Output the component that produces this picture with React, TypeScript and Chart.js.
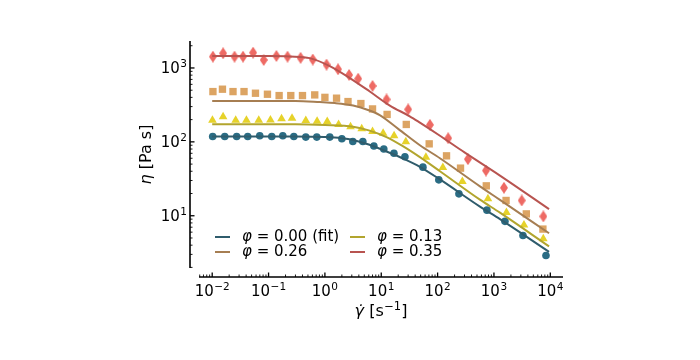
import React, { useEffect, useRef } from 'react';
import { Chart, registerables } from 'chart.js';

Chart.register(...registerables);

const FONT = "'DejaVu Sans', 'Noto Sans', sans-serif";

// ---- measured data (shear rate in 1/s, viscosity in Pa s) ----
const phi000X = [0.0102, 0.0167, 0.0272, 0.0427, 0.0698, 0.114, 0.179, 0.281, 0.458, 0.718, 1.22, 2.0, 3.13, 4.71, 7.4, 11.1, 16.8, 26.3, 54.9, 105, 239, 751, 1568, 3272, 8380];
const phi000Y = [118, 118, 118, 118, 121, 118, 121, 118, 116, 116, 116, 110, 101, 101, 88, 80, 70, 63, 45.5, 30.6, 19.8, 11.9, 8.4, 5.4, 2.9];

const phi013X = [0.0101, 0.0156, 0.0261, 0.0405, 0.067, 0.108, 0.17, 0.261, 0.458, 0.727, 1.1, 1.75, 2.85, 4.5, 7.0, 10.8, 16.9, 27.3, 62, 124, 275, 782, 1667, 3410, 7510];
const phi013Y = [196, 218, 196, 196, 196, 198, 205, 209, 194, 190, 189, 172, 160, 151, 138, 131, 121, 100, 62, 45, 29, 17, 11.1, 7.5, 4.9];

const phi026X = [0.0103, 0.0152, 0.0234, 0.0367, 0.0586, 0.0956, 0.154, 0.248, 0.40, 0.66, 1.0, 1.61, 2.57, 4.35, 7.0, 12.7, 27.8, 70.9, 144, 255, 731, 1640, 3750, 7390];
const phi026Y = [479, 516, 479, 479, 455, 441, 423, 423, 423, 432, 400, 390, 351, 330, 279, 235, 172, 94, 64.7, 44.1, 25.4, 16.1, 10.6, 6.6];

const phi035X = [0.0103, 0.0156, 0.0249, 0.0352, 0.0531, 0.0821, 0.138, 0.217, 0.37, 0.61, 1.07, 1.71, 2.69, 3.89, 7.0, 12.4, 30, 73, 154, 345, 721, 1507, 3107, 7517];
const phi035Y = [1422, 1581, 1422, 1422, 1610, 1283, 1452, 1422, 1370, 1300, 1110, 960, 804, 715, 571, 375, 275, 170, 112, 58.3, 40.9, 23.9, 16.1, 9.8];

// ---- fitted curves ----
const fit000X = [0.01, 0.3, 1, 2, 3.17, 6, 12.4, 25, 48.5, 110, 564, 1279, 9500];
const fit000Y = [118, 118, 116, 112, 106, 92, 74, 59, 46, 31, 13.3, 9, 3.25];

const fit013X = [0.01, 0.3, 1, 3.17, 6, 12.4, 25, 48.5, 110, 564, 1279, 9500];
const fit013Y = [173, 173, 169, 160, 143, 116, 86, 62, 40, 16.5, 11, 3.85];

const fit026X = [0.01, 0.3, 0.81, 1.5, 3.17, 6, 9.4, 20, 48.5, 110, 564, 1279, 9500];
const fit026Y = [358, 357, 345, 335, 310, 268, 230, 150, 90, 60, 25, 16.4, 5.8];

const fit035X = [0.01, 0.1, 0.24, 0.54, 1.22, 2.77, 6.26, 14.2, 32, 48.5, 110, 300, 1279, 9500];
const fit035Y = [1450, 1450, 1430, 1360, 1060, 730, 480, 310, 222, 182, 121, 72, 35, 12.3];

// ---- axes ----
const xTickValues = [0.01, 0.1, 1, 10, 100, 1000, 10000];
const xTickExponents = ['−2', '−1', '0', '1', '2', '3', '4'];
const yTickValues = [10, 100, 1000];
const yTickExponents = ['1', '2', '3'];
const tickBase = '10';
const xRange = [0.00583, 16800];
const yRange = [1.963, 2317];
// title pieces: [italic symbol, text, superscript, text]
const xTitleParts = ['γ̇', ' [s', '−1', ']'];
const yTitleParts = ['η', ' [Pa s]'];

// legend order: column 1 then column 2 (matplotlib ncol=2)
const legendLabels = ['φ = 0.00 (fit)', 'φ = 0.26', 'φ = 0.13', 'φ = 0.35'];

const COL = {
  b: '#2a6c84', bLine: '#2f5c6c',
  y: '#e6d22a', yLine: '#b2a52e',
  o: '#dca463', oLine: '#a67e52',
  r: '#ee6a64', rLine: '#b85450',
};

const FS = 15; // tick / legend font size
const SUP = 10.5; // superscript size
const TFS = 16; // axis title size
const TSUP = 11.5;

function pts(xs: number[], ys: number[]) {
  return xs.map((x, i) => ({ x, y: ys[i] }));
}

function thinDiamond(color: string, w: number, h: number) {
  const c = document.createElement('canvas');
  c.width = w; c.height = h;
  const g = c.getContext('2d')!;
  g.fillStyle = color;
  g.beginPath();
  g.moveTo(w / 2, 0); g.lineTo(w, h / 2); g.lineTo(w / 2, h); g.lineTo(0, h / 2);
  g.closePath(); g.fill();
  return c;
}

const SPINE_OFFSET = 9;

function powLabelWidth(ctx: CanvasRenderingContext2D, exp: string) {
  ctx.font = `${FS}px ${FONT}`;
  const a = ctx.measureText(tickBase).width;
  ctx.font = `${SUP}px ${FONT}`;
  const b = ctx.measureText(exp).width;
  return { a, b };
}

function drawPow(ctx: CanvasRenderingContext2D, exp: string, left: number, baseline: number) {
  const { a } = powLabelWidth(ctx, exp);
  ctx.font = `${FS}px ${FONT}`;
  ctx.fillText(tickBase, left, baseline);
  ctx.font = `${SUP}px ${FONT}`;
  ctx.fillText(exp, left + a + 0.5, baseline - 6);
}

const axesPlugin = {
  id: 'mplAxes',
  afterDraw(chart: any) {
    const { ctx, chartArea: ca, scales } = chart;
    const xs = scales.x, ys = scales.y;
    const sx = ca.left - SPINE_OFFSET;
    const sy = ca.bottom + SPINE_OFFSET;
    ctx.save();
    ctx.strokeStyle = '#000';
    ctx.lineCap = 'butt';
    ctx.lineWidth = 1.6;
    ctx.beginPath();
    ctx.moveTo(sx, ca.top); ctx.lineTo(sx, ca.bottom);
    ctx.moveTo(ca.left, sy); ctx.lineTo(ca.right, sy);
    ctx.stroke();
    const tick = (isX: boolean, v: number, len: number, w: number) => {
      ctx.lineWidth = w;
      ctx.beginPath();
      if (isX) {
        const p = xs.getPixelForValue(v);
        if (p < ca.left - 0.5 || p > ca.right + 0.5) return;
        ctx.moveTo(p, sy); ctx.lineTo(p, sy - len);
      } else {
        const p = ys.getPixelForValue(v);
        if (p < ca.top - 0.5 || p > ca.bottom + 0.5) return;
        ctx.moveTo(sx, p); ctx.lineTo(sx + len, p);
      }
      ctx.stroke();
    };
    for (let e = -3; e <= 4; e++) {
      for (let m = 1; m <= 9; m++) {
        const v = m * Math.pow(10, e);
        if (v < xRange[0] || v > xRange[1]) continue;
        tick(true, v, m === 1 ? 4.5 : 2.5, m === 1 ? 1.3 : 0.9);
      }
    }
    for (let e = 0; e <= 3; e++) {
      for (let m = 1; m <= 9; m++) {
        const v = m * Math.pow(10, e);
        if (v < yRange[0] || v > yRange[1]) continue;
        tick(false, v, m === 1 ? 4.5 : 2.5, m === 1 ? 1.3 : 0.9);
      }
    }

    // tick labels
    ctx.fillStyle = '#000';
    ctx.textBaseline = 'alphabetic';
    ctx.textAlign = 'left';
    xTickValues.forEach((v, i) => {
      const p = xs.getPixelForValue(v);
      const exp = xTickExponents[i];
      const { a, b } = powLabelWidth(ctx, exp);
      const w = a + 0.5 + b;
      drawPow(ctx, exp, p - w / 2, sy + 19);
    });
    yTickValues.forEach((v, i) => {
      const p = ys.getPixelForValue(v);
      const exp = yTickExponents[i];
      const { a, b } = powLabelWidth(ctx, exp);
      const w = a + 0.5 + b;
      drawPow(ctx, exp, sx - 3 - w, p + 5.5);
    });

    // x title
    {
      ctx.font = `italic ${TFS}px ${FONT}`;
      const w0 = ctx.measureText(xTitleParts[0]).width;
      ctx.font = `${TFS}px ${FONT}`;
      const w1 = ctx.measureText(xTitleParts[1]).width;
      const w3 = ctx.measureText(xTitleParts[3]).width;
      ctx.font = `${TSUP}px ${FONT}`;
      const w2 = ctx.measureText(xTitleParts[2]).width;
      const total = w0 + w1 + w2 + w3 + 0.5;
      let x = (ca.left + ca.right) / 2 - total / 2;
      const base = 316;
      ctx.font = `italic ${TFS}px ${FONT}`;
      ctx.fillText(xTitleParts[0], x, base); x += w0;
      ctx.font = `${TFS}px ${FONT}`;
      ctx.fillText(xTitleParts[1], x, base); x += w1 + 0.5;
      ctx.font = `${TSUP}px ${FONT}`;
      ctx.fillText(xTitleParts[2], x, base - 6.5); x += w2;
      ctx.font = `${TFS}px ${FONT}`;
      ctx.fillText(xTitleParts[3], x, base);
    }
    // y title (rotated)
    {
      ctx.save();
      ctx.translate(151, (ca.top + ca.bottom) / 2);
      ctx.rotate(-Math.PI / 2);
      ctx.font = `italic ${TFS}px ${FONT}`;
      const w0 = ctx.measureText(yTitleParts[0]).width;
      ctx.font = `${TFS}px ${FONT}`;
      const w1 = ctx.measureText(yTitleParts[1]).width;
      let x = -(w0 + w1) / 2;
      ctx.font = `italic ${TFS}px ${FONT}`;
      ctx.fillText(yTitleParts[0], x, 0); x += w0;
      ctx.font = `${TFS}px ${FONT}`;
      ctx.fillText(yTitleParts[1], x, 0);
      ctx.restore();
    }

    // legend
    const rows = [ca.top + 196, ca.top + 211];
    const cols = [ca.left + 16, ca.left + 151];
    const colors = [COL.bLine, COL.oLine, COL.yLine, COL.rLine];
    legendLabels.forEach((lab, i) => {
      const col = Math.floor(i / 2), row = i % 2;
      const x0 = cols[col], y0 = rows[row];
      ctx.strokeStyle = colors[i];
      ctx.lineWidth = 2;
      ctx.beginPath(); ctx.moveTo(x0, y0); ctx.lineTo(x0 + 15, y0); ctx.stroke();
      ctx.fillStyle = '#000';
      ctx.textBaseline = 'middle';
      ctx.textAlign = 'left';
      const sym = lab.slice(0, 1), rest = lab.slice(1);
      ctx.font = `italic ${FS}px ${FONT}`;
      ctx.fillText(sym, x0 + 27, y0);
      const w = ctx.measureText(sym).width;
      ctx.font = `${FS}px ${FONT}`;
      ctx.fillText(rest, x0 + 27 + w, y0);
    });
    ctx.restore();
  },
};

export default function App() {
  const ref = useRef<HTMLCanvasElement>(null);
  useEffect(() => {
    const canvas = ref.current!;
    const dia = thinDiamond(COL.r, 8, 12);
    const lineDs = (label: string, xs: number[], ys: number[], color: string) => ({
      type: 'line' as const,
      label,
      data: pts(xs, ys),
      borderColor: color,
      backgroundColor: color,
      borderWidth: 2,
      pointRadius: 0,
      cubicInterpolationMode: 'monotone' as const,
      fill: false,
    });
    const markDs = (label: string, xs: number[], ys: number[], color: string, style: any, r: number) => ({
      type: 'line' as const,
      label,
      data: pts(xs, ys),
      showLine: false,
      borderColor: color,
      backgroundColor: color,
      pointBackgroundColor: color,
      pointBorderColor: color,
      pointBorderWidth: 0,
      pointStyle: style,
      pointRadius: r,
      pointHoverRadius: r,
    });
    const chart = new Chart(canvas, {
      type: 'line',
      data: {
        datasets: [
          lineDs('φ = 0.00 (fit)', fit000X, fit000Y, COL.bLine),
          lineDs('φ = 0.13', fit013X, fit013Y, COL.yLine),
          lineDs('φ = 0.26', fit026X, fit026Y, COL.oLine),
          lineDs('φ = 0.35', fit035X, fit035Y, COL.rLine),
          markDs('φ = 0.00 data', phi000X, phi000Y, COL.b, 'circle', 3.8),
          markDs('φ = 0.13 data', phi013X, phi013Y, COL.y, 'triangle', 5),
          markDs('φ = 0.26 data', phi026X, phi026Y, COL.o, 'rect', 5.2),
          markDs('φ = 0.35 data', phi035X, phi035Y, COL.r, dia, 6),
        ] as any,
      },
      options: {
        responsive: false,
        animation: false,
        devicePixelRatio: 1,
        layout: { padding: { left: 0, top: 41, right: 137, bottom: 0 } },
        plugins: { legend: { display: false }, tooltip: { enabled: false } },
        scales: {
          x: {
            type: 'logarithmic',
            min: xRange[0],
            max: xRange[1],
            grid: { display: false, drawTicks: false },
            border: { display: false },
            afterBuildTicks: (s: any) => { s.ticks = xTickValues.map((v) => ({ value: v })); },
            afterFit: (s: any) => { s.height = 92; },
            ticks: { display: false },
            title: { display: false },
          },
          y: {
            type: 'logarithmic',
            min: yRange[0],
            max: yRange[1],
            grid: { display: false, drawTicks: false },
            border: { display: false },
            afterBuildTicks: (s: any) => { s.ticks = yTickValues.map((v) => ({ value: v })); },
            afterFit: (s: any) => { s.width = 199; },
            ticks: { display: false },
            title: { display: false },
          },
        },
      },
      plugins: [axesPlugin],
    });
    return () => chart.destroy();
  }, []);
  return (
    <div style={{ position: 'absolute', left: 0, top: 0, width: 700, height: 360, background: '#fff' }}>
      <canvas ref={ref} width={700} height={360} style={{ display: 'block', width: 700, height: 360 }} />
    </div>
  );
}
